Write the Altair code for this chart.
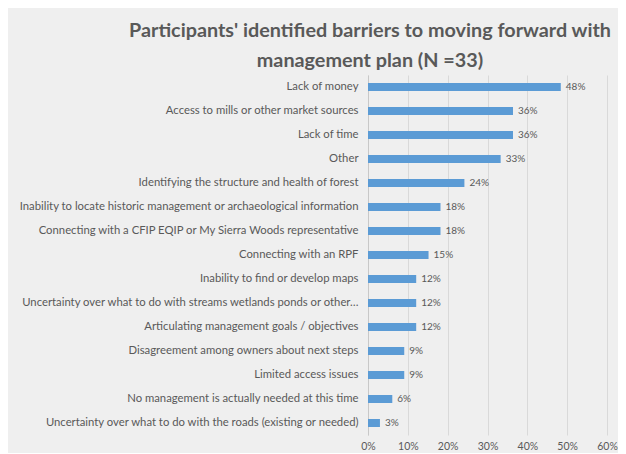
import altair as alt
import pandas as pd

categories = [
    "Lack of money",
    "Access to mills or other market sources",
    "Lack of time",
    "Other",
    "Identifying the structure and health of forest",
    "Inability to locate historic management or archaeological information",
    "Connecting with a CFIP EQIP or My Sierra Woods representative",
    "Connecting with an RPF",
    "Inability to find or develop maps",
    "Uncertainty over what to do with streams wetlands ponds or other\u2026",
    "Articulating management goals / objectives",
    "Disagreement among owners about next steps",
    "Limited access issues",
    "No management is actually needed at this time",
    "Uncertainty over what to do with the roads (existing or needed)",
]
values = [48.4, 36.4, 36.4, 33.3, 24.2, 18.2, 18.2, 15.2, 12.1, 12.1, 12.1, 9.1, 9.1, 6.1, 3.0]
x_ticks = [0, 0.1, 0.2, 0.3, 0.4, 0.5, 0.6]

df = pd.DataFrame({"cat": categories, "share": [v / 100 for v in values]})

FONT = "Lato"
GRAY = "#595959"

y = alt.Y("cat:N", sort=categories, title=None,
          scale=alt.Scale(paddingInner=0.66, paddingOuter=0.33),
          axis=alt.Axis(labelFont=FONT, labelFontSize=11.3, labelColor=GRAY,
                        labelPadding=10, ticks=False, domainColor="#c8c8c8",
                        labelLimit=400))
x = alt.X("share:Q", title=None,
          scale=alt.Scale(domain=[0, 0.6], nice=False),
          axis=alt.Axis(values=x_ticks, format=".0%", labelFont=FONT,
                        labelFontSize=10.5, labelColor=GRAY, ticks=False,
                        domain=False, gridColor="#d9d9d9", labelPadding=6,
                        labelOverlap=False, labelFlush=False))

base = alt.Chart(df)
bars = base.mark_bar(color="#5b9bd5", size=8).encode(x=x, y=y)
labels = base.mark_text(align="left", dx=5, font=FONT, fontSize=10, color=GRAY).encode(
    x=x, y=y,
    text=alt.Text("share:Q", format=".0%"))

chart = (bars + labels).properties(
    width=239, height=360,
    autosize=alt.AutoSizeParams(type="none"),
    padding={"left": 360, "top": 67, "right": 11, "bottom": 18},
    background="#efefef",
    title=alt.Title(
        ["Participants' identified barriers to moving forward with", "management plan (N =33)"],
        font=FONT, fontSize=19.8, fontWeight="bold", color=GRAY,
        anchor="middle", frame="bounds", lineHeight=30, offset=4, dx=52),
).configure_view(stroke=None)

chart.save("out.html", embed_options={"renderer": "svg", "actions": False})
